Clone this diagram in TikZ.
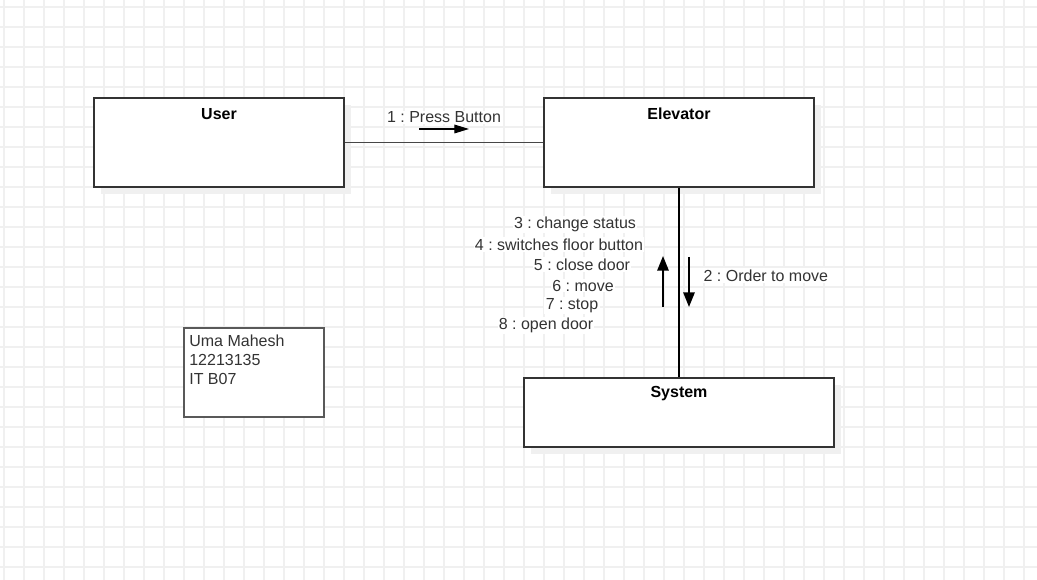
\documentclass[tikz,border=0pt]{standalone}
\usepackage{fontspec}
\setmainfont{Liberation Sans}
\usepackage{xcolor}
\usetikzlibrary{arrows.meta, positioning, shadows}
\definecolor{gridgray}{HTML}{F0F0F0}
\definecolor{boxgray}{HTML}{333333}
\definecolor{textgray}{HTML}{333333}
\frenchspacing
\newcommand{\diagfont}{\fontsize{12}{15}\selectfont}
\tikzstyle{gridline} = [draw=gridgray, line width=1pt]
\tikzstyle{objbox} = [rectangle, draw=boxgray, line width=1.1pt, fill=white, drop shadow={shadow xshift=5pt, shadow yshift=-5.5pt, fill=black!6, opacity=1}]
\tikzstyle{objtitle} = [anchor=center, yshift=-12.5pt, font=\diagfont\bfseries, text=black]
\tikzstyle{notebox} = [rectangle, draw=black!65, line width=1.4pt, fill=white, minimum width=105pt, minimum height=66.75pt]
\tikzstyle{msglabel} = [fill=white, inner sep=1pt, text=textgray, font=\diagfont]
\tikzstyle{hlink} = [draw=black!72, line width=1.1pt]
\tikzstyle{vlink} = [draw=black, line width=1.5pt]
\tikzstyle{msgarrow} = [line width=0.9pt, -{Triangle[length=11pt, width=6.5pt]}]
\tikzstyle{varrow} = [line width=1.5pt, -{Triangle[length=11pt, width=8.5pt]}]

\begin{document}
\begin{tikzpicture}[x=0.75pt, y=-0.75pt, font=\diagfont]
\useasboundingbox (0,0) rectangle (1037,580);

% Background grid
\foreach \gx in {4,24,...,1037} \draw [gridline] (\gx,0) -- (\gx,580);
\foreach \gy in {7,27,...,580} \draw [gridline] (0,\gy) -- (1037,\gy);

% Objects
\node (user) [objbox, minimum width=187.5pt, minimum height=66.75pt, label={[objtitle]north:User}] at (219,142.5) {};

\node (elevator) [objbox, minimum width=202.5pt, minimum height=66.75pt, label={[objtitle]north:Elevator}] at (679,142.5) {};

\node (system) [objbox, minimum width=232.5pt, minimum height=51.75pt, label={[objtitle]north:System}] at (679,412.5) {};

% Student note
\node (note) [notebox] at (254,372.5) {};
\node (note-text) [anchor=north west, align=left, inner sep=0pt, text=textgray, font=\fontsize{12}{14}\selectfont] at ([xshift=4.5pt, yshift=-6pt]note.north west) {Uma Mahesh\\12213135\\IT B07};

% Links
\draw [hlink] (user) -- (elevator);
\draw [vlink] (elevator) -- (system);

% Message 1
\coordinate (press-tail) at (419,129);
\coordinate (press-head) at (469,129);
\draw [msgarrow] (press-tail) -- (press-head);
\node (press-lbl) [msglabel] at (444,117.5) {1 : Press Button};

% Message 2
\coordinate (order-tail) at (689,257);
\coordinate (order-head) at (689,307);
\draw [varrow] (order-tail) -- (order-head);
\node (order-lbl) [msglabel, anchor=west] at (702,275.5) {2 : Order to move};

% Messages 3 to 8
\coordinate (reply-tail) at (663,307);
\coordinate (reply-head) at (663,256);
\draw [varrow] (reply-tail) -- (reply-head);
\node (status-lbl) [msglabel] at (575,224.5) {3 : change status};
\node (switch-lbl) [msglabel] at (559,244.5) {4 : switches floor button};
\node (close-lbl) [msglabel] at (582,264.5) {5 : close door};
\node (move-lbl) [msglabel] at (583,285.5) {6 : move};
\node (stop-lbl) [msglabel] at (572,305.5) {7 : stop};
\node (open-lbl) [msglabel] at (546,325.5) {8 : open door};

\end{tikzpicture}
\end{document}
